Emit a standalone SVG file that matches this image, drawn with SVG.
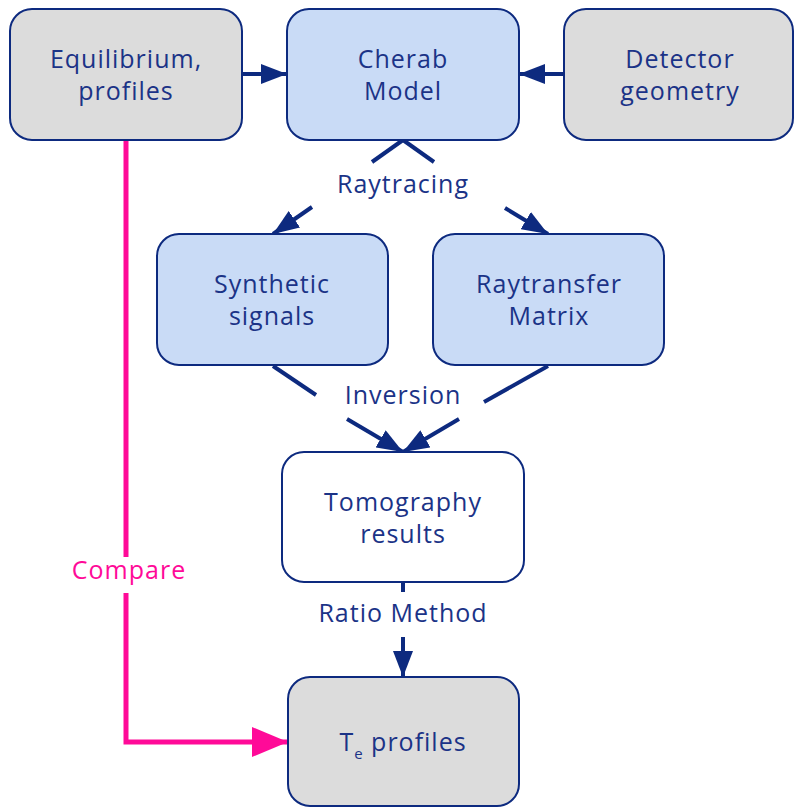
<svg xmlns="http://www.w3.org/2000/svg" width="794" height="807" viewBox="0 0 794 807">
<defs>
<style>
.box{stroke:#0d2a7f;stroke-width:2}
.grey{fill:#dcdcdc}
.blue{fill:#c9dbf6}
.white{fill:#ffffff}
.t{font-family:"Open Sans","Liberation Sans",sans-serif;font-size:25px;letter-spacing:1px;fill:#1b3387;text-anchor:middle}
.c{fill:none;stroke:#0d2a7f;stroke-width:4}
.p{fill:none;stroke:#ff0a98;stroke-width:5}
</style>
<marker id="ah" markerUnits="userSpaceOnUse" markerWidth="26" markerHeight="20" refX="26" refY="10" orient="auto">
<path d="M0,0 L26,10 L0,20 Z" fill="#0d2a7f"/>
</marker>
<marker id="ahp" markerUnits="userSpaceOnUse" markerWidth="36" markerHeight="30" refX="36" refY="15" orient="auto">
<path d="M0,0 L36,15 L0,30 Z" fill="#ff0a98"/>
</marker>
</defs>
<rect width="794" height="807" fill="#ffffff"/>
<g id="connectors">
<line class="c" x1="242" y1="74" x2="287" y2="74" marker-end="url(#ah)"/>
<line class="c" x1="564" y1="74" x2="519" y2="74" marker-end="url(#ah)"/>
<line class="c" x1="403" y1="140" x2="372" y2="162"/>
<line class="c" x1="312" y1="207" x2="273" y2="234" marker-end="url(#ah)"/>
<line class="c" x1="403" y1="140" x2="434" y2="162"/>
<line class="c" x1="505" y1="208" x2="548" y2="234" marker-end="url(#ah)"/>
<line class="c" x1="273" y1="366" x2="316" y2="395"/>
<line class="c" x1="347" y1="419" x2="403" y2="452" marker-end="url(#ah)"/>
<line class="c" x1="548" y1="366" x2="484" y2="402"/>
<line class="c" x1="459" y1="419" x2="403" y2="452" marker-end="url(#ah)"/>
<line class="c" x1="403" y1="582" x2="403" y2="592"/>
<line class="c" x1="403" y1="637" x2="403" y2="677" marker-end="url(#ah)"/>
<polyline class="p" points="126,140 126,557"/>
<polyline class="p" points="126,593 126,742 288,742" marker-end="url(#ahp)"/>
<text class="t" x="403" y="193">Raytracing</text>
<text class="t" x="403" y="404">Inversion</text>
<text class="t" x="403" y="622">Ratio Method</text>
<text class="t" x="129" y="579" style="fill:#ff0a98">Compare</text>
</g>
<g id="equilibrium">
<rect class="box grey" x="10" y="9" width="232" height="131" rx="22"/>
<text class="t" x="126" y="68">Equilibrium,</text>
<text class="t" x="126" y="100">profiles</text>
</g>
<g id="cherab">
<rect class="box blue" x="287" y="9" width="232" height="131" rx="22"/>
<text class="t" x="403" y="68">Cherab</text>
<text class="t" x="403" y="100">Model</text>
</g>
<g id="detector">
<rect class="box grey" x="564" y="9" width="229" height="131" rx="22"/>
<text class="t" x="680" y="68">Detector</text>
<text class="t" x="680" y="100">geometry</text>
</g>
<g id="synthetic">
<rect class="box blue" x="157" y="234" width="231" height="131" rx="22"/>
<text class="t" x="272" y="293">Synthetic</text>
<text class="t" x="272" y="325">signals</text>
</g>
<g id="raytransfer">
<rect class="box blue" x="433" y="234" width="231" height="131" rx="22"/>
<text class="t" x="549" y="293">Raytransfer</text>
<text class="t" x="549" y="325">Matrix</text>
</g>
<g id="tomography">
<rect class="box white" x="282" y="452" width="242" height="130" rx="22"/>
<text class="t" x="403" y="511">Tomography</text>
<text class="t" x="403" y="543">results</text>
</g>
<g id="te">
<rect class="box grey" x="288" y="677" width="231" height="129" rx="22"/>
<text class="t" x="403" y="751">T<tspan font-size="15" dy="8">e</tspan><tspan dy="-8"> profiles</tspan></text>
</g>
</svg>
